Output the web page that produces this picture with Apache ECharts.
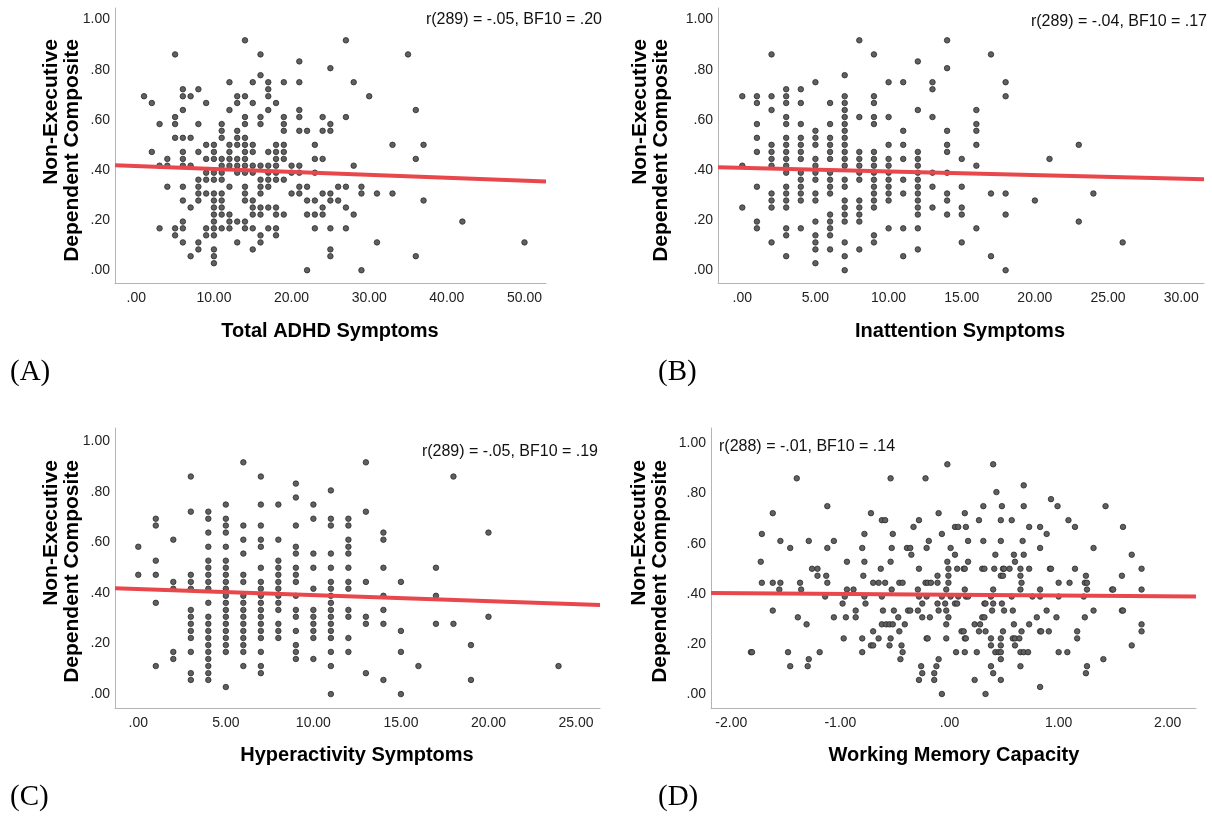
<!DOCTYPE html>
<html>
<head>
<meta charset="utf-8">
<script src="https://cdn.jsdelivr.net/npm/echarts@6/dist/echarts.min.js"></script>
<style>
html, body { margin: 0; padding: 0; background: #ffffff; }
#chart { width: 1212px; height: 817px; }
</style>
</head>
<body>
<div id="chart"></div>
<script>
// Tick values
const yTicks = [0, 0.2, 0.4, 0.6, 0.8, 1.0];
const ticksTotal = [0, 10, 20, 30, 40, 50];
const ticksInatt = [0, 5, 10, 15, 20, 25, 30];
const ticksHyper = [0, 5, 10, 15, 20, 25];
const ticksWmc = [-2, -1, 0, 1, 2];

// Axis titles and statistics
const yTitle = 'Non-Executive\nDependent Composite';
const xTitles = ['Total ADHD Symptoms', 'Inattention Symptoms', 'Hyperactivity Symptoms', 'Working Memory Capacity'];
const statLabels = ['r(289) = -.05, BF10 = .20', 'r(289) = -.04, BF10 = .17', 'r(289) = -.05, BF10 = .19', 'r(288) = -.01, BF10 = .14'];
const panelTags = ['(A)', '(B)', '(C)', '(D)'];

// Regression lines (end points in data units)
const fitTotal = [[-2.74, 0.419], [52.77, 0.354]];
const fitInatt = [[-1.66, 0.411], [31.56, 0.363]];
const fitHyper = [[-1.33, 0.419], [26.37, 0.353]];
const fitWmc = [[-2.186, 0.403], [2.259, 0.389]];

// Total ADHD symptoms vs composite
const totalPoints = [
[1,.694],
[2,.667],[2,.472],
[3,.583],[3,.417],[3,.167],
[4,.444],[4,.417],[4,.333],
[5,.861],[5,.611],[5,.583],[5,.528],[5,.167],[5,.139],
[6,.722],[6,.694],[6,.639],[6,.528],[6,.472],[6,.444],[6,.417],[6,.333],[6,.278],[6,.194],[6,.167],[6,.111],
[7,.694],[7,.528],[7,.417],[7,.250],[7,.056],
[8,.722],[8,.583],[8,.472],[8,.361],[8,.333],[8,.306],[8,.278],[8,.111],[8,.083],
[9,.667],[9,.500],[9,.444],[9,.389],[9,.361],[9,.306],[9,.167],[9,.139],
[10,.500],[10,.472],[10,.444],[10,.389],[10,.361],[10,.306],[10,.278],[10,.250],[10,.222],[10,.194],[10,.167],[10,.139],[10,.083],[10,.056],[10,.028],
[11,.583],[11,.556],[11,.528],[11,.444],[11,.417],[11,.389],[11,.361],[11,.306],[11,.278],[11,.250],[11,.222],[11,.167],
[12,.750],[12,.639],[12,.500],[12,.472],[12,.444],[12,.417],[12,.333],[12,.222],[12,.194],[12,.167],
[13,.694],[13,.667],[13,.556],[13,.528],[13,.500],[13,.444],[13,.417],[13,.389],[13,.194],[13,.111],
[14,.917],[14,.694],[14,.611],[14,.583],[14,.528],[14,.500],[14,.472],[14,.444],[14,.417],[14,.389],[14,.333],[14,.306],[14,.278],[14,.194],[14,.167],
[15,.750],[15,.667],[15,.500],[15,.472],[15,.417],[15,.389],[15,.278],[15,.250],[15,.222],[15,.167],[15,.083],
[16,.861],[16,.778],[16,.611],[16,.583],[16,.417],[16,.361],[16,.333],[16,.306],[16,.250],[16,.222],[16,.139],[16,.111],
[17,.750],[17,.722],[17,.694],[17,.639],[17,.472],[17,.417],[17,.389],[17,.361],[17,.333],[17,.250],[17,.167],
[18,.667],[18,.500],[18,.472],[18,.444],[18,.417],[18,.389],[18,.361],[18,.250],[18,.222],[18,.167],[18,.139],
[19,.750],[19,.611],[19,.583],[19,.556],[19,.500],[19,.472],[19,.444],[19,.361],[19,.222],
[20,.417],[20,.389],[20,.306],
[21,.833],[21,.750],[21,.639],[21,.611],[21,.556],[21,.417],[21,.389],[21,.333],[21,.306],
[22,.556],[22,.333],[22,.278],[22,.222],[22,0],
[23,.500],[23,.444],[23,.389],[23,.278],[23,.222],[23,.167],
[24,.611],[24,.556],[24,.444],[24,.306],[24,.250],[24,.222],
[25,.806],[25,.583],[25,.556],[25,.306],[25,.278],[25,.167],[25,.083],[25,.056],
[26,.333],[26,.278],
[27,.917],[27,.611],[27,.333],[27,.250],[27,.167],
[28,.750],[28,.417],[28,.222],
[29,.333],[29,.306],[29,0],
[30,.694],
[31,.306],[31,.111],
[33,.500],[33,.306],
[35,.861],
[36,.639],[36,.444],[36,.056],
[37,.500],[37,.278],
[42,.194],
[50,.111]
];

// Inattention symptoms vs composite
const inattPoints = [
[0,.694],[0,.417],[0,.250],
[1,.694],[1,.667],[1,.583],[1,.528],[1,.472],[1,.333],[1,.194],[1,.167],
[2,.861],[2,.694],[2,.639],[2,.500],[2,.472],[2,.444],[2,.417],[2,.306],[2,.278],[2,.250],[2,.111],
[3,.722],[3,.694],[3,.667],[3,.611],[3,.583],[3,.528],[3,.500],[3,.472],[3,.444],[3,.417],[3,.389],[3,.333],[3,.306],[3,.278],[3,.250],[3,.167],[3,.139],[3,.056],
[4,.722],[4,.667],[4,.583],[4,.528],[4,.500],[4,.472],[4,.444],[4,.389],[4,.361],[4,.333],[4,.306],[4,.278],[4,.167],
[5,.750],[5,.556],[5,.528],[5,.500],[5,.444],[5,.417],[5,.389],[5,.361],[5,.306],[5,.278],[5,.194],[5,.139],[5,.111],[5,.083],[5,.028],
[6,.667],[6,.583],[6,.528],[6,.500],[6,.472],[6,.444],[6,.389],[6,.361],[6,.333],[6,.306],[6,.222],[6,.194],[6,.167],[6,.139],[6,.083],
[7,.778],[7,.694],[7,.667],[7,.639],[7,.611],[7,.583],[7,.556],[7,.528],[7,.500],[7,.472],[7,.444],[7,.417],[7,.361],[7,.333],[7,.278],[7,.250],[7,.222],[7,.194],[7,.111],[7,.056],[7,0],
[8,.917],[8,.611],[8,.472],[8,.444],[8,.417],[8,.389],[8,.361],[8,.278],[8,.250],[8,.222],[8,.194],[8,.083],
[9,.861],[9,.694],[9,.667],[9,.611],[9,.583],[9,.472],[9,.444],[9,.417],[9,.389],[9,.361],[9,.333],[9,.306],[9,.278],[9,.250],[9,.139],[9,.111],
[10,.750],[10,.611],[10,.500],[10,.444],[10,.417],[10,.389],[10,.361],[10,.333],[10,.306],[10,.278],[10,.167],
[11,.750],[11,.556],[11,.500],[11,.444],[11,.361],[11,.306],[11,.167],[11,.056],
[12,.833],[12,.639],[12,.472],[12,.444],[12,.417],[12,.389],[12,.361],[12,.333],[12,.306],[12,.278],[12,.250],[12,.222],[12,.167],[12,.083],
[13,.750],[13,.722],[13,.611],[13,.389],[13,.333],[13,.250],
[14,.917],[14,.806],[14,.556],[14,.500],[14,.472],[14,.389],[14,.306],[14,.278],[14,.222],
[15,.444],[15,.333],[15,.250],[15,.222],[15,.111],
[16,.639],[16,.583],[16,.556],[16,.500],[16,.417],[16,.167],
[17,.861],[17,.306],[17,.056],
[18,.750],[18,.694],[18,.306],[18,.222],[18,0],
[20,.278],
[21,.444],
[23,.500],[23,.194],
[24,.306],
[26,.111]
];

// Hyperactivity symptoms vs composite
const hyperPoints = [
[0,.583],[0,.472],
[1,.694],[1,.667],[1,.528],[1,.472],[1,.361],[1,.111],
[2,.611],[2,.444],[2,.417],[2,.167],[2,.139],
[3,.861],[3,.722],[3,.472],[3,.444],[3,.417],[3,.333],[3,.306],[3,.278],[3,.250],[3,.222],[3,.167],[3,.083],[3,.056],
[4,.722],[4,.694],[4,.639],[4,.583],[4,.528],[4,.500],[4,.472],[4,.444],[4,.417],[4,.361],[4,.306],[4,.278],[4,.250],[4,.222],[4,.194],[4,.167],[4,.139],[4,.111],[4,.083],[4,.056],
[5,.750],[5,.694],[5,.667],[5,.639],[5,.583],[5,.528],[5,.500],[5,.472],[5,.444],[5,.417],[5,.389],[5,.361],[5,.333],[5,.306],[5,.278],[5,.250],[5,.222],[5,.194],[5,.167],[5,.028],
[6,.917],[6,.667],[6,.611],[6,.556],[6,.472],[6,.444],[6,.389],[6,.361],[6,.333],[6,.306],[6,.278],[6,.250],[6,.222],[6,.194],[6,.167],[6,.111],
[7,.861],[7,.750],[7,.667],[7,.611],[7,.583],[7,.500],[7,.444],[7,.417],[7,.389],[7,.361],[7,.333],[7,.306],[7,.278],[7,.250],[7,.222],[7,.167],[7,.111],[7,.083],
[8,.750],[8,.611],[8,.528],[8,.500],[8,.472],[8,.444],[8,.417],[8,.389],[8,.361],[8,.333],[8,.278],[8,.250],[8,.222],
[9,.833],[9,.778],[9,.667],[9,.583],[9,.556],[9,.500],[9,.472],[9,.444],[9,.389],[9,.333],[9,.306],[9,.250],[9,.194],[9,.167],[9,.139],
[10,.750],[10,.694],[10,.556],[10,.500],[10,.417],[10,.333],[10,.306],[10,.278],[10,.250],[10,.222],[10,.139],
[11,.806],[11,.694],[11,.667],[11,.556],[11,.500],[11,.444],[11,.417],[11,.389],[11,.361],[11,.333],[11,.306],[11,.278],[11,.250],[11,.222],[11,.167],[11,.111],[11,0],
[12,.694],[12,.667],[12,.611],[12,.583],[12,.556],[12,.500],[12,.444],[12,.417],[12,.333],[12,.306],[12,.222],[12,.167],
[13,.917],[13,.722],[13,.444],[13,.306],[13,.278],[13,.083],
[14,.639],[14,.611],[14,.500],[14,.389],[14,.333],[14,.278],[14,.056],
[15,.444],[15,.250],[15,.167],[15,0],
[16,.111],
[17,.500],[17,.389],[17,.278],
[18,.861],[18,.278],
[19,.194],[19,.056],
[20,.639],[20,.306],
[24,.111]
];

// Working memory capacity vs composite
const wmcPoints = [
[-1.40,.861],[-1.12,.750],[-1.62,.722],[-1.72,.639],[-0.78,.639],[-1.55,.611],[-1.29,.611],[-1.06,.611],[-1.46,.583],[-1.12,.583],[-0.80,.583],[-1.73,.528],[-0.94,.528],[-0.78,.528],[-1.26,.500],[-1.21,.500],[-1.21,.472],[-1.13,.472],[-0.79,.472],[-1.72,.444],[-1.62,.444],[-1.55,.444],[-1.37,.444],[-1.12,.444],[-1.56,.417],[-1.36,.417],[-0.94,.417],[-0.88,.417],[-1.14,.389],[-0.96,.389],[-0.78,.389],[-0.98,.361],[-0.77,.361],[-1.62,.333],[-0.86,.333],[-1.39,.306],[-1.06,.306],[-0.95,.306],[-0.86,.306],[-1.31,.278],[-0.97,.222],[-0.80,.222],[-1.82,.167],[-1.81,.167],[-1.48,.167],[-1.19,.167],[-0.80,.167],[-1.29,.139],[-1.46,.111],[-1.30,.111],
[-0.02,.917],[0.40,.917],[-0.54,.861],[-0.22,.861],[0.68,.833],[0.43,.806],[0.31,.750],[0.48,.750],[0.68,.750],[-0.72,.722],[-0.10,.722],[0.14,.722],[-0.62,.694],[-0.59,.694],[-0.28,.694],[0.27,.694],[0.47,.694],[0.57,.694],[-0.33,.667],[0.05,.667],[0.08,.667],[0.15,.667],[0.73,.667],[-0.52,.639],[-0.07,.639],[-0.19,.611],[0.17,.611],[0.31,.611],[0.47,.611],[0.67,.611],[-0.53,.583],[-0.39,.583],[-0.36,.583],[-0.21,.583],[0.01,.583],[-0.35,.556],[0.05,.556],[0.42,.556],[0.59,.556],[0.68,.556],[-0.54,.528],[-0.02,.528],[0.17,.528],[0.60,.528],[-0.63,.500],[-0.28,.500],[-0.01,.500],[0.07,.500],[0.13,.500],[0.14,.500],[0.30,.500],[0.32,.500],[0.41,.500],[0.49,.500],[0.50,.500],[0.55,.500],[0.65,.500],[0.73,.500],[-0.11,.472],[-0.01,.472],[0.47,.472],[0.49,.472],[0.65,.472],[-0.70,.444],[-0.65,.444],[-0.59,.444],[-0.46,.444],[-0.43,.444],[-0.22,.444],[-0.20,.444],[-0.17,.444],[-0.11,.444],[-0.01,.444],[0.66,.444],[-0.53,.417],[-0.29,.417],[-0.03,.417],[0.14,.417],[0.40,.417],[0.65,.417],[-0.62,.389],[-0.28,.389],[-0.21,.389],[-0.07,.389],[0.01,.389],[0.08,.389],[0.15,.389],[0.17,.389],[0.38,.389],[0.57,.389],[-0.25,.361],[-0.11,.361],[-0.04,.361],[0.05,.361],[0.07,.361],[0.32,.361],[0.33,.361],[0.40,.361],[0.48,.361],[-0.61,.333],[-0.51,.333],[-0.38,.333],[-0.36,.333],[-0.29,.333],[-0.10,.333],[-0.03,.333],[0.39,.333],[0.50,.333],[0.58,.333],[-0.47,.306],[-0.25,.306],[-0.18,.306],[-0.01,.306],[0.30,.306],[0.32,.306],[-0.62,.278],[-0.58,.278],[-0.55,.278],[-0.52,.278],[-0.41,.278],[-0.03,.278],[0.23,.278],[0.28,.278],[0.59,.278],[0.73,.278],[-0.70,.250],[-0.46,.250],[0.11,.250],[0.13,.250],[0.27,.250],[0.33,.250],[0.49,.250],[0.66,.250],[-0.65,.222],[-0.54,.222],[-0.21,.222],[-0.20,.222],[-0.03,.222],[0.14,.222],[0.15,.222],[0.38,.222],[0.47,.222],[0.58,.222],[0.60,.222],[0.64,.222],[-0.72,.194],[-0.70,.194],[-0.55,.194],[-0.44,.194],[0.38,.194],[0.47,.194],[0.60,.194],[-0.43,.167],[0.06,.167],[0.14,.167],[0.25,.167],[0.42,.167],[0.45,.167],[0.47,.167],[0.65,.167],[0.68,.167],[0.72,.167],[-0.45,.139],[-0.10,.139],[0.47,.139],[-0.26,.111],[-0.12,.111],[0.38,.111],[0.65,.111],[-0.25,.083],[-0.14,.083],[0.40,.083],[-0.28,.056],[-0.14,.056],[0.23,.056],[0.47,.056],[-0.07,0],[0.33,0],
[0.93,.778],[0.99,.750],[1.43,.750],[1.09,.694],[0.83,.667],[1.15,.667],[1.59,.667],[0.89,.639],[0.83,.583],[1.32,.583],[1.67,.556],[0.92,.500],[0.93,.500],[1.15,.500],[1.76,.500],[1.25,.472],[1.58,.472],[1.00,.444],[1.10,.444],[1.24,.444],[1.26,.444],[0.83,.417],[1.26,.417],[1.49,.417],[1.50,.417],[1.76,.417],[0.76,.389],[0.83,.389],[1.00,.389],[1.23,.389],[0.89,.333],[1.32,.333],[1.58,.333],[1.59,.333],[0.80,.306],[0.98,.306],[1.24,.306],[1.76,.278],[0.83,.250],[0.84,.250],[0.91,.250],[1.17,.250],[1.76,.250],[1.17,.222],[1.67,.194],[1.00,.167],[1.08,.167],[1.41,.139],[1.26,.111],[1.25,.083],[0.83,.028]
];

const FONT = '"Liberation Sans", Arial, sans-serif';
const SERIF = '"Liberation Serif", "Times New Roman", serif';
const fmt = v => v.toFixed(2).replace(/^(-?)0\./, '$1.');

// Panel layout: plot rectangles, axis ranges and text anchors
const panels = [
  { grid: { left: 115, top: 8, width: 431, height: 275 }, xr: [-2.74, 52.77], yr: [-0.051, 1.046], xt: ticksTotal, pts: totalPoints, fit: fitTotal,
    stat: [602, 20, 'right'], xTitle: [330, 331], yTitlePos: [62, 39], tag: [10, 372] },
  { grid: { left: 718, top: 8, width: 486, height: 275 }, xr: [-1.66, 31.56], yr: [-0.051, 1.046], xt: ticksInatt, pts: inattPoints, fit: fitInatt,
    stat: [1207, 22, 'right'], xTitle: [960, 331], yTitlePos: [651, 39], tag: [658, 372] },
  { grid: { left: 115, top: 428, width: 485, height: 280 }, xr: [-1.33, 26.37], yr: [-0.055, 1.053], xt: ticksHyper, pts: hyperPoints, fit: fitHyper,
    stat: [598, 452, 'right'], xTitle: [357, 755], yTitlePos: [62, 460], tag: [10, 797] },
  { grid: { left: 711, top: 428, width: 485, height: 280 }, xr: [-2.186, 2.259], yr: [-0.056, 1.062], xt: ticksWmc, pts: wmcPoints, fit: fitWmc,
    stat: [719, 447, 'left'], xTitle: [954, 755], yTitlePos: [650, 460], tag: [658, 797] }
];

const axisLineStyle = { show: true, onZero: false, lineStyle: { color: '#b4b4b4', width: 1 } };
const labelStyle = { color: '#222', fontSize: 14, fontFamily: FONT };

const graphics = [];
panels.forEach((p, i) => {
  graphics.push({ type: 'text', x: p.stat[0], y: p.stat[1],
    style: { text: statLabels[i], font: '16px ' + FONT, fill: '#111', align: p.stat[2], verticalAlign: 'middle' } });
  graphics.push({ type: 'text', x: p.xTitle[0], y: p.xTitle[1],
    style: { text: xTitles[i], font: 'bold 20px ' + FONT, fill: '#000', align: 'center', verticalAlign: 'middle' } });
  // two-line y title, both lines ending at the same height
  graphics.push({ type: 'text', x: p.yTitlePos[0], y: p.yTitlePos[1], rotation: Math.PI / 2,
    style: { text: yTitle, font: 'bold 21px ' + FONT, fill: '#000', align: 'right', verticalAlign: 'middle', lineHeight: 21 } });
  graphics.push({ type: 'text', x: p.tag[0], y: p.tag[1],
    style: { text: panelTags[i], font: '29px ' + SERIF, fill: '#000', align: 'left', verticalAlign: 'middle' } });
});

const option = {
  animation: false,
  backgroundColor: '#ffffff',
  grid: panels.map(p => Object.assign({ containLabel: false }, p.grid)),
  xAxis: panels.map((p, i) => ({
    type: 'value', gridIndex: i, min: p.xr[0], max: p.xr[1],
    axisLine: axisLineStyle, axisTick: { show: false }, splitLine: { show: false },
    axisLabel: Object.assign({ customValues: p.xt, formatter: fmt, margin: 8 }, labelStyle)
  })),
  yAxis: panels.map((p, i) => ({
    type: 'value', gridIndex: i, min: p.yr[0], max: p.yr[1],
    axisLine: axisLineStyle, axisTick: { show: false }, splitLine: { show: false },
    axisLabel: Object.assign({ customValues: yTicks, formatter: fmt, margin: 5 }, labelStyle)
  })),
  series: panels.map((p, i) => ({
    type: 'scatter', xAxisIndex: i, yAxisIndex: i, data: p.pts,
    symbol: 'circle', symbolSize: 5.5, z: 2,
    itemStyle: { color: '#606060', borderColor: '#2a2a2a', borderWidth: 0.8, opacity: 1 }
  })).concat(panels.map((p, i) => ({
    type: 'line', xAxisIndex: i, yAxisIndex: i, data: p.fit,
    symbol: 'none', silent: true, z: 3,
    lineStyle: { color: '#e8484c', width: 4 }
  }))),
  graphic: graphics
};

const chart = echarts.init(document.getElementById('chart'), null, { renderer: 'canvas' });
chart.setOption(option);
</script>
</body>
</html>
